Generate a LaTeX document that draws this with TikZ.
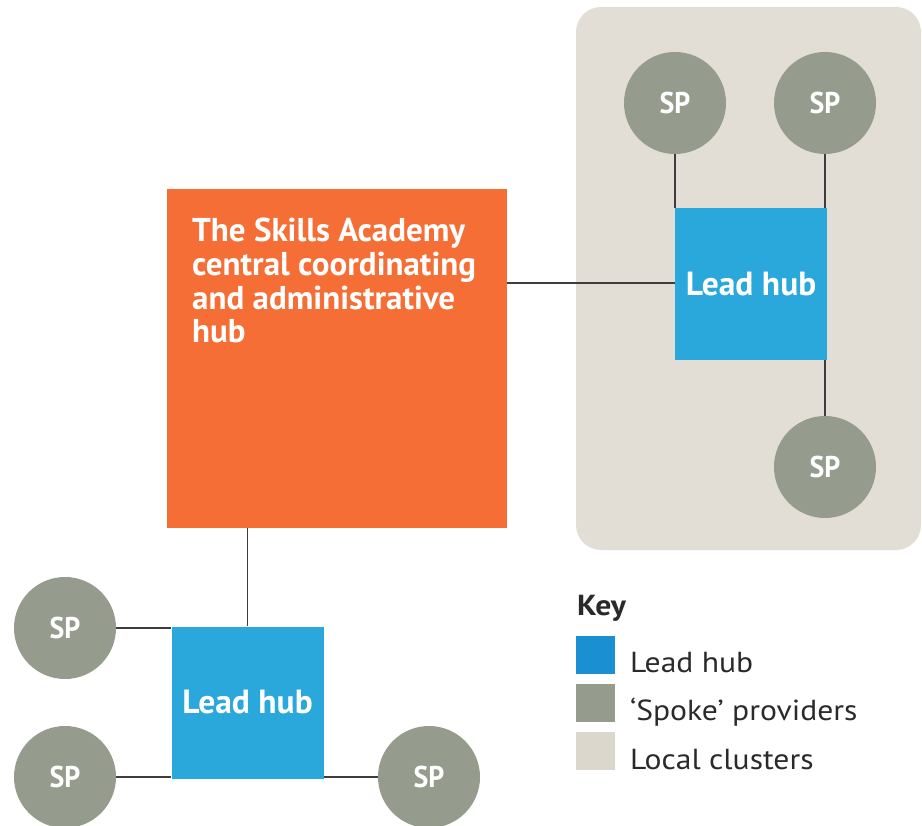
\documentclass[tikz,border=0pt]{standalone}
\usepackage{fontspec}
\setmainfont{PT Sans}
\newfontfamily\narrowfont{PT Sans}[FakeStretch=0.93]
\newfontfamily\widefont{PT Sans}[FakeStretch=1.09]
\usetikzlibrary{backgrounds}
\definecolor{orangehub}{HTML}{F46E35}
\definecolor{leadblue}{HTML}{2AA7DB}
\definecolor{keyblue}{HTML}{1A90D2}
\definecolor{spgrey}{HTML}{959B8D}
\definecolor{clusterbg}{HTML}{E2DED5}
\definecolor{keybeige}{HTML}{DCD7CD}
\definecolor{linegrey}{HTML}{3D3D3D}
\definecolor{keytext}{HTML}{2A2A2A}
\tikzset{
  spnode/.style={circle, fill=spgrey, minimum size=102pt, inner sep=0pt, text=white,
    font=\narrowfont\bfseries\fontsize{30}{30}\selectfont},
  leadhub/.style={rectangle, fill=leadblue, minimum width=152pt, minimum height=152pt, inner sep=0pt,
    text=white, font=\bfseries\fontsize{33.5}{33.5}\selectfont},
  link/.style={draw=linegrey, line width=1.2pt},
  swatch/.style={rectangle, minimum width=39pt, minimum height=38pt, inner sep=0pt},
  keylabel/.style={anchor=base west, inner sep=0pt, text=keytext, font=\widefont\fontsize{29}{29}\selectfont}
}
\begin{document}
\begin{tikzpicture}[x=1pt,y=-1pt]
\useasboundingbox (0,0) rectangle (922,826);
% central hub
\node[rectangle, fill=orangehub, minimum width=340pt, minimum height=339pt, inner sep=0pt] (central) at (337,358.5) {};
\node[anchor=north west, inner sep=0pt, align=left, text=white,
  font=\bfseries\fontsize{33}{33.7}\selectfont] (centraltext) at (192,218)
  {The Skills Academy\\central coordinating\\and administrative\\hub};
% top cluster
\node[leadhub] (hubT) at (751,284) {Lead hub};
\node[spnode] (sp1) at (675,103) {SP};
\node[spnode] (sp2) at (825,103) {SP};
\node[spnode] (sp3) at (825,467) {SP};
% bottom cluster
\node[leadhub] (hubB) at (247.5,702.5) {Lead hub};
\node[spnode] (sp4) at (65,628) {SP};
\node[spnode] (sp5) at (65,777) {SP};
\node[spnode] (sp6) at (429,777) {SP};
% local cluster background and connectors
\begin{scope}[on background layer]
\node[rectangle, fill=clusterbg, rounded corners=25pt, minimum width=345pt, minimum height=543pt, inner sep=0pt] (cluster) at (748.5,278.5) {};
\draw[link] (sp1.south) -- (sp1.south |- hubT.north);
\draw[link] (sp2.south) -- (sp2.south |- hubT.north);
\draw[link] (sp3.north) -- (sp3.north |- hubT.south);
\draw[link] (hubT.west |- 0,283) coordinate (tA) -- (tA -| central.east);
\draw[link] (hubB.north) -- (hubB.north |- central.south);
\draw[link] (sp4.east) -- (sp4.east -| hubB.west);
\draw[link] (sp5.east) -- (sp5.east -| hubB.west);
\draw[link] (sp6.west) -- (sp6.west -| hubB.east);
\end{scope}
% key
\node[anchor=base west, inner sep=0pt, text=keytext, font=\widefont\bfseries\fontsize{29}{29}\selectfont] (keytitle) at (577,615) {Key};
\node[swatch, fill=keyblue, anchor=north west] (swblue) at (576,636) {};
\node[swatch, fill=spgrey, anchor=north west] (swgrey) at (576,684) {};
\node[swatch, fill=keybeige, anchor=north west] (swbeige) at (576,732) {};
\node[keylabel] (klead) at (630,672) {Lead hub};
\node[keylabel] (kspoke) at (630,720) {‘Spoke’ providers};
\node[keylabel] (kclust) at (630,769) {Local clusters};
\end{tikzpicture}
\end{document}
